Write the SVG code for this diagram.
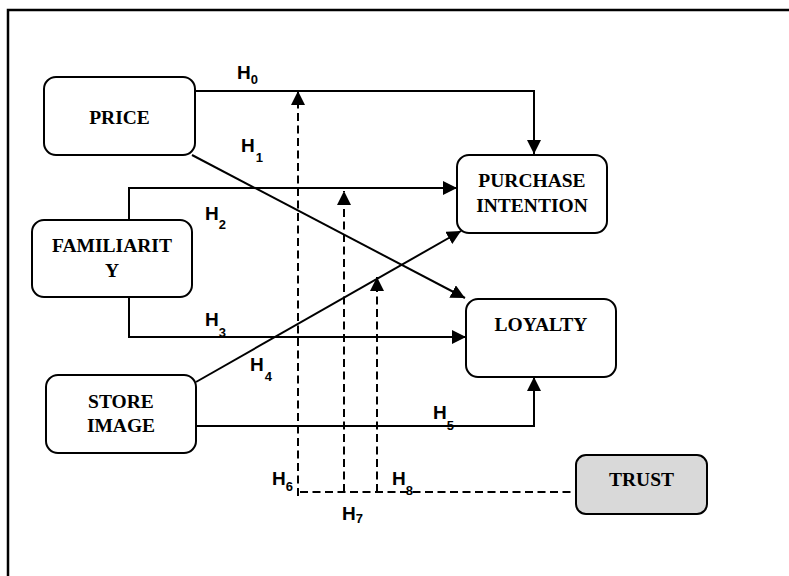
<svg xmlns="http://www.w3.org/2000/svg" width="789" height="576" viewBox="0 0 789 576">
  <style>
    .box { fill: #ffffff; stroke: #000000; stroke-width: 2; }
    .box.shaded { fill: #d9d9d9; }
    .lbl { font-family: "Liberation Serif", "Times New Roman", serif; font-weight: bold; font-size: 19.5px; text-anchor: middle; fill: #000000; }
    .hyp { font-family: "Liberation Sans", Arial, sans-serif; font-weight: bold; font-size: 19px; fill: #000000; }
    .sub { font-size: 13px; }
    .edge { fill: none; stroke: #000000; stroke-width: 2; }
    .dash { stroke-dasharray: 8 4.5; }
  </style>
  <defs>
    <marker id="arrow" markerUnits="userSpaceOnUse" viewBox="0 0 14 14" refX="14" refY="7" markerWidth="14" markerHeight="14" orient="auto">
      <path d="M0,0 L14,7 L0,14 Z" fill="#000000"/>
    </marker>
  </defs>

  <rect width="789" height="576" fill="#ffffff"/>
  <!-- page frame -->
  <path d="M8,576 V10 H789" fill="none" stroke="#000000" stroke-width="2.5"/>

  <!-- connectors -->
  <g id="connectors">
    <path class="edge" d="M195,91 H534 V154" marker-end="url(#arrow)"/>
    <path class="edge" d="M192,155 L465,298" marker-end="url(#arrow)"/>
    <path class="edge" d="M129,220 V188 H457" marker-end="url(#arrow)"/>
    <path class="edge" d="M129,297 V337 H466" marker-end="url(#arrow)"/>
    <path class="edge" d="M196,382 L461,231" marker-end="url(#arrow)"/>
    <path class="edge" d="M196,426 H534 V377" marker-end="url(#arrow)"/>
    <path class="edge dash" d="M298,496 V91" marker-end="url(#arrow)"/>
    <path class="edge dash" d="M344,492 V191" marker-end="url(#arrow)"/>
    <path class="edge dash" d="M377,492 V277" marker-end="url(#arrow)"/>
    <path class="edge dash" d="M300,492 H576"/>

    <text class="hyp" x="237" y="79">H<tspan class="sub" dy="5">0</tspan></text>
    <text class="hyp" x="241" y="152">H<tspan class="sub" dx="1" dy="10">1</tspan></text>
    <text class="hyp" x="205" y="220">H<tspan class="sub" dy="9">2</tspan></text>
    <text class="hyp" x="205" y="326">H<tspan class="sub" dy="11">3</tspan></text>
    <text class="hyp" x="250" y="371">H<tspan class="sub" dx="1" dy="10">4</tspan></text>
    <text class="hyp" x="433" y="419">H<tspan class="sub" dy="11">5</tspan></text>
    <text class="hyp" x="272" y="485">H<tspan class="sub" dy="6">6</tspan></text>
    <text class="hyp" x="342" y="520">H<tspan class="sub" dy="3">7</tspan></text>
    <text class="hyp" x="392" y="485">H<tspan class="sub" dy="10">8</tspan></text>
  </g>

  <g id="price">
    <rect class="box" x="44" y="77" width="151" height="78" rx="12"/>
    <text class="lbl" x="119.5" y="124">PRICE</text>
  </g>
  <g id="purchase-intention">
    <rect class="box" x="457" y="155" width="150" height="78" rx="12"/>
    <text class="lbl" x="532" y="187">PURCHASE</text>
    <text class="lbl" x="532" y="212">INTENTION</text>
  </g>
  <g id="familiarity">
    <rect class="box" x="32" y="220" width="160" height="77" rx="12"/>
    <text class="lbl" x="112" y="252">FAMILIARIT</text>
    <text class="lbl" x="112" y="277">Y</text>
  </g>
  <g id="loyalty">
    <rect class="box" x="466" y="299" width="150" height="78" rx="12"/>
    <text class="lbl" x="541" y="331">LOYALTY</text>
  </g>
  <g id="store-image">
    <rect class="box" x="46" y="375" width="150" height="78" rx="12"/>
    <text class="lbl" x="121" y="408">STORE</text>
    <text class="lbl" x="121" y="432">IMAGE</text>
  </g>
  <g id="trust">
    <rect class="box shaded" x="576" y="455" width="131" height="59" rx="10"/>
    <text class="lbl" x="641.5" y="486">TRUST</text>
  </g>
</svg>
